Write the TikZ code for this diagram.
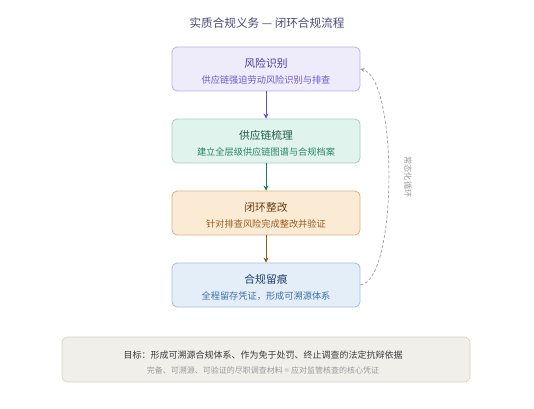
\documentclass[tikz,border=0pt]{standalone}
\usepackage{fontspec}
\setmainfont{Noto Sans CJK SC}
\usetikzlibrary{arrows.meta}
\definecolor{titlec}{HTML}{4B4A7B}
\definecolor{pfill}{HTML}{EEEBFB}\definecolor{pdraw}{HTML}{B9B0EE}\definecolor{ptext}{HTML}{4A3F9A}\definecolor{psub}{HTML}{6B5BD0}\definecolor{parr}{HTML}{5A4FCF}
\definecolor{gfill}{HTML}{E0F3EC}\definecolor{gdraw}{HTML}{9FD3BE}\definecolor{gtext}{HTML}{1E5E47}\definecolor{gsub}{HTML}{2A8466}\definecolor{garr}{HTML}{1F7A5A}
\definecolor{ofill}{HTML}{FBEBD5}\definecolor{odraw}{HTML}{D9B07A}\definecolor{otext}{HTML}{6B3D0E}\definecolor{osub}{HTML}{9A5B1A}\definecolor{oarr}{HTML}{8B5A1E}
\definecolor{bfill}{HTML}{E4EEF9}\definecolor{bdraw}{HTML}{9EC0E4}\definecolor{btext}{HTML}{1F3F66}\definecolor{bsub}{HTML}{3C6EA8}
\definecolor{nfill}{HTML}{F1EFEA}\definecolor{ndraw}{HTML}{D6D2C8}\definecolor{ntext}{HTML}{3A3A3A}\definecolor{nsub}{HTML}{9A9A9A}
\definecolor{loopc}{HTML}{999999}
\tikzset{
  stagebox/.style={rounded corners=5pt, line width=0.8pt, minimum width=188pt, minimum height=44pt},
  stagetitle/.style={font=\fontsize{10.8pt}{12pt}\selectfont},
  stagesub/.style={font=\fontsize{9.2pt}{11pt}\selectfont},
  flowarrow/.style={line width=1pt, -{Stealth[length=5pt,width=5pt]}},
}
\begin{document}
\begin{tikzpicture}[x=1pt,y=-1pt]
\useasboundingbox (0,0) rectangle (534,408);
\node[text=titlec, font=\fontsize{11.6pt}{13pt}\selectfont] (title) at (267,23) {实质合规义务 — 闭环合规流程};

\node[stagebox, fill=pfill, draw=pdraw] (s1) at (266,69) {};
\node[stagetitle, text=ptext] (s1t) at (266,63) {风险识别};
\node[stagesub, text=psub] (s1s) at (266,80) {供应链强迫劳动风险识别与排查};

\node[stagebox, fill=gfill, draw=gdraw] (s2) at (266,141) {};
\node[stagetitle, text=gtext] (s2t) at (266,135) {供应链梳理};
\node[stagesub, text=gsub] (s2s) at (266,152) {建立全层级供应链图谱与合规档案};

\node[stagebox, fill=ofill, draw=odraw] (s3) at (266,213) {};
\node[stagetitle, text=otext] (s3t) at (266,207) {闭环整改};
\node[stagesub, text=osub] (s3s) at (266,224) {针对排查风险完成整改并验证};

\node[stagebox, fill=bfill, draw=bdraw] (s4) at (266,285) {};
\node[stagetitle, text=btext] (s4t) at (266,279) {合规留痕};
\node[stagesub, text=bsub] (s4s) at (266,296) {全程留存凭证，形成可溯源体系};

\draw[flowarrow, draw=parr] (s1.south) -- (s2.north);
\draw[flowarrow, draw=garr] (s2.south) -- (s3.north);
\draw[flowarrow, draw=oarr] (s3.south) -- (s4.north);

\draw[loopc, line width=0.7pt, dashed, dash pattern=on 3pt off 2pt, -{Stealth[length=4pt,width=4pt]}]
  (s4.east) .. controls (398,280) and (398,78) .. (s1.east);
\node[text=loopc, rotate=-90, font=\fontsize{8.2pt}{9pt}\selectfont] (looplbl) at (408,177) {常态化循环};

\node[fill=nfill, draw=ndraw, line width=0.7pt, rounded corners=6pt, minimum width=408pt, minimum height=45pt] (note) at (266,359.5) {};
\node[text=ntext, font=\fontsize{9pt}{10pt}\selectfont] (notel1) at (263,355) {目标：形成可溯源合规体系、作为免于处罚、终止调查的法定抗辩依据};
\node[text=nsub, font=\fontsize{8pt}{9pt}\selectfont] (notel2) at (263,370) {完备、可溯源、可验证的尽职调查材料 = 应对监管核查的核心凭证};
\end{tikzpicture}
\end{document}
